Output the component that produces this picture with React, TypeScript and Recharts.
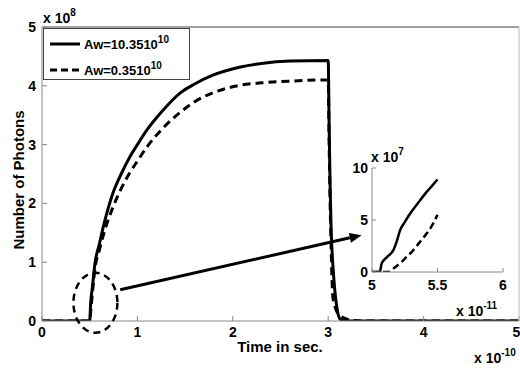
import React from 'react';
import { LineChart, Line, XAxis, YAxis, ReferenceLine, ReferenceDot, Legend } from 'recharts';

// Main chart: time in units of 1e-10 s, photons in units of 1e8
const solidTime = [0, 0.5, 0.51, 0.53, 0.556, 0.6, 0.65, 0.745, 0.83, 0.92, 1.0, 1.1, 1.25, 1.45, 1.6, 1.79, 2.08, 2.3, 2.6, 3.0, 3.01, 3.02, 3.03, 3.04, 3.06, 3.08, 3.1, 3.12, 3.15, 3.2, 5];
const solidPhotons = [0, 0, 0.3, 0.6, 0.99, 1.3, 1.65, 2.18, 2.5, 2.79, 3.0, 3.25, 3.55, 3.88, 4.03, 4.18, 4.32, 4.38, 4.42, 4.43, 3.3, 2.3, 1.6, 1.2, 0.7, 0.36, 0.15, 0.04, 0.01, 0, 0];
const dashedTime = [0, 0.5, 0.51, 0.53, 0.556, 0.6, 0.65, 0.745, 0.83, 0.92, 1.0, 1.1, 1.25, 1.45, 1.6, 1.79, 2.08, 2.3, 2.6, 3.0, 3.01, 3.02, 3.03, 3.04, 3.05, 3.08, 3.12, 3.18, 3.25, 3.35, 5];
const dashedPhotons = [0, 0, 0.15, 0.5, 0.9, 1.2, 1.5, 1.94, 2.25, 2.52, 2.72, 2.96, 3.25, 3.55, 3.73, 3.88, 4.01, 4.05, 4.08, 4.1, 3.0, 2.0, 1.3, 0.7, 0.4, 0.2, 0.1, 0.04, 0.01, 0, 0];
const xTicks = [0, 1, 2, 3, 4, 5];
const yTicks = [0, 1, 2, 3, 4, 5];

// Inset: time in units of 1e-11 s, photons in units of 1e7
const insetSolidTime = [5, 5.06, 5.074, 5.12, 5.163, 5.19, 5.214, 5.25, 5.29, 5.35, 5.417, 5.46, 5.5];
const insetSolidPhotons = [0, 0, 0.84, 1.5, 2.1, 3.0, 4.0, 4.8, 5.6, 6.6, 7.7, 8.3, 8.9];
const insetDashedTime = [5, 5.12, 5.16, 5.214, 5.26, 5.316, 5.36, 5.417, 5.46, 5.5];
const insetDashedPhotons = [0, 0, 0.3, 0.84, 1.4, 2.1, 2.8, 3.7, 4.5, 5.5];
const insetXTicks = [5, 5.5, 6];
const insetYTicks = [0, 5, 10];

const seriesNames = ['Aw=10.35', 'Aw=0.35'];

const zip = (t: number[], v: number[]) => t.map((x, i) => ({ t: x, v: v[i] }));

const FONT = '"Liberation Sans", Arial, sans-serif';
const tickStyle = { fontFamily: FONT, fontWeight: 'bold' as const, fontSize: 14, fill: '#000' };
const DASH = '8 5';

const LegendBox = () => (
  <div
    style={{
      width: 145,
      height: 50,
      border: '1px solid #444',
      background: '#fff',
      fontFamily: FONT,
      fontWeight: 'bold',
      fontSize: 13,
      color: '#000',
      position: 'relative',
    }}
  >
    {seriesNames.map((n, i) => (
      <div key={n} style={{ position: 'absolute', left: 6, top: 5 + i * 26, height: 20, display: 'flex', alignItems: 'center', whiteSpace: 'nowrap' }}>
        <svg width={30} height={6} style={{ marginRight: 4 }}>
          <line x1={0} y1={3} x2={30} y2={3} stroke="#000" strokeWidth={3} strokeDasharray={i === 1 ? '7 4' : undefined} />
        </svg>
        <span>
          {n}10<sup style={{ fontSize: 10, verticalAlign: 'top', position: 'relative', top: -3 }}>10</sup>
        </span>
      </div>
    ))}
  </div>
);

const Arrow = (p: any) => {
  const { x1, y1, x2, y2 } = p;
  if ([x1, y1, x2, y2].some((v) => typeof v !== 'number')) return null;
  const dx = x2 - x1, dy = y2 - y1;
  const len = Math.sqrt(dx * dx + dy * dy);
  const ux = dx / len, uy = dy / len;
  const hl = 12, hw = 5;
  const bx = x2 - ux * hl, by = y2 - uy * hl;
  const pts = `${x2},${y2} ${bx - uy * hw},${by + ux * hw} ${bx + uy * hw},${by - ux * hw}`;
  return (
    <g>
      <line x1={x1} y1={y1} x2={bx} y2={by} stroke="#000" strokeWidth={3} />
      <polygon points={pts} fill="#000" />
    </g>
  );
};

const EllipseShape = (p: any) => (
  <ellipse cx={p.cx} cy={p.cy} rx={22} ry={30} fill="none" stroke="#000" strokeWidth={2.5} strokeDasharray="7 5" />
);

const Sup = ({ x, y, base, exp, size = 14 }: { x: number; y: number; base: string; exp: string; size?: number }) => (
  <text x={x} y={y} fontFamily={FONT} fontWeight="bold" fontSize={size} fill="#000">
    {base}
    <tspan dy={-7} fontSize={size - 4}>{exp}</tspan>
  </text>
);

export default function App() {
  const solid = zip(solidTime, solidPhotons);
  const dashed = zip(dashedTime, dashedPhotons);
  const iSolid = zip(insetSolidTime, insetSolidPhotons);
  const iDashed = zip(insetDashedTime, insetDashedPhotons);
  return (
    <div style={{ position: 'absolute', left: 0, top: 0, width: 520, height: 368, background: '#fff' }}>
      <LineChart width={520} height={368} margin={{ top: 26, right: 0, bottom: 46, left: 41 }}>
        <XAxis
          dataKey="t"
          type="number"
          domain={[0, 5]}
          ticks={xTicks}
          height={1}
          tickSize={-5}
          tickMargin={11}
          stroke="#888"
          tick={tickStyle}
          allowDataOverflow
        />
        <XAxis
          xAxisId="top"
          orientation="top"
          type="number"
          domain={[0, 5]}
          ticks={xTicks}
          height={1}
          tickSize={-5}
          tickFormatter={() => ''}
          stroke="#444"
        />
        <YAxis
          dataKey="v"
          type="number"
          domain={[0, 5]}
          ticks={yTicks}
          width={1}
          tickSize={-5}
          tickMargin={11}
          stroke="#888"
          tick={tickStyle}
          allowDataOverflow
        />
        <YAxis
          yAxisId="right"
          orientation="right"
          type="number"
          domain={[0, 5]}
          ticks={yTicks}
          width={1}
          tickSize={-5}
          tickFormatter={() => ''}
          stroke="#bbb"
        />
        <Legend
          layout="vertical"
          align="center"
          verticalAlign="middle"
          content={<LegendBox />}
          wrapperStyle={{ position: 'absolute', left: 43, top: 28, width: 147, height: 52 }}
        />
        <Line data={solid} dataKey="v" name={seriesNames[0]} stroke="#000" strokeWidth={3} dot={false} type="monotone" isAnimationActive={false} />
        <Line data={dashed} dataKey="v" name={seriesNames[1]} stroke="#000" strokeWidth={3} strokeDasharray={DASH} dot={false} type="monotone" isAnimationActive={false} />
        <ReferenceDot x={0.56} y={0.31} shape={EllipseShape} ifOverflow="visible" />
        <ReferenceLine segment={[{ x: 0.82, y: 0.53 }, { x: 3.35, y: 1.46 }]} shape={Arrow} ifOverflow="visible" />
      </LineChart>

      <div style={{ position: 'absolute', left: 340, top: 150 }}>
        <LineChart width={170} height={160} margin={{ top: 18, right: 7, bottom: 37, left: 31 }}>
          <XAxis
            dataKey="t"
            type="number"
            domain={[5, 6]}
            ticks={insetXTicks}
            height={1}
            tickSize={-4}
            tickMargin={12}
            stroke="#888"
            tick={tickStyle}
            allowDataOverflow
          />
          <YAxis
            dataKey="v"
            type="number"
            domain={[0, 10]}
            ticks={insetYTicks}
            width={1}
            tickSize={-4}
            tickMargin={8}
            stroke="#888"
            tick={tickStyle}
            allowDataOverflow
          />
          <Line data={iSolid} dataKey="v" stroke="#000" strokeWidth={2.5} dot={false} type="monotone" isAnimationActive={false} />
          <Line data={iDashed} dataKey="v" stroke="#000" strokeWidth={2.5} strokeDasharray="7 4" dot={false} type="monotone" isAnimationActive={false} />
        </LineChart>
      </div>

      <svg width={520} height={368} style={{ position: 'absolute', left: 0, top: 0, pointerEvents: 'none' }}>
        <Sup x={43} y={23} base="x 10" exp="8" />
        <Sup x={474} y={363} base="x 10" exp="-10" />
        <Sup x={456} y={316} base="x 10" exp="-11" />
        <Sup x={371} y={162} base="x 10" exp="7" />
        <text x={280} y={352} textAnchor="middle" fontFamily={FONT} fontWeight="bold" fontSize={15} fill="#000">Time in sec.</text>
        <text x={0} y={0} transform="translate(24,180) rotate(-90)" textAnchor="middle" fontFamily={FONT} fontWeight="bold" fontSize={15} fill="#000">Number of Photons</text>
      </svg>
    </div>
  );
}
